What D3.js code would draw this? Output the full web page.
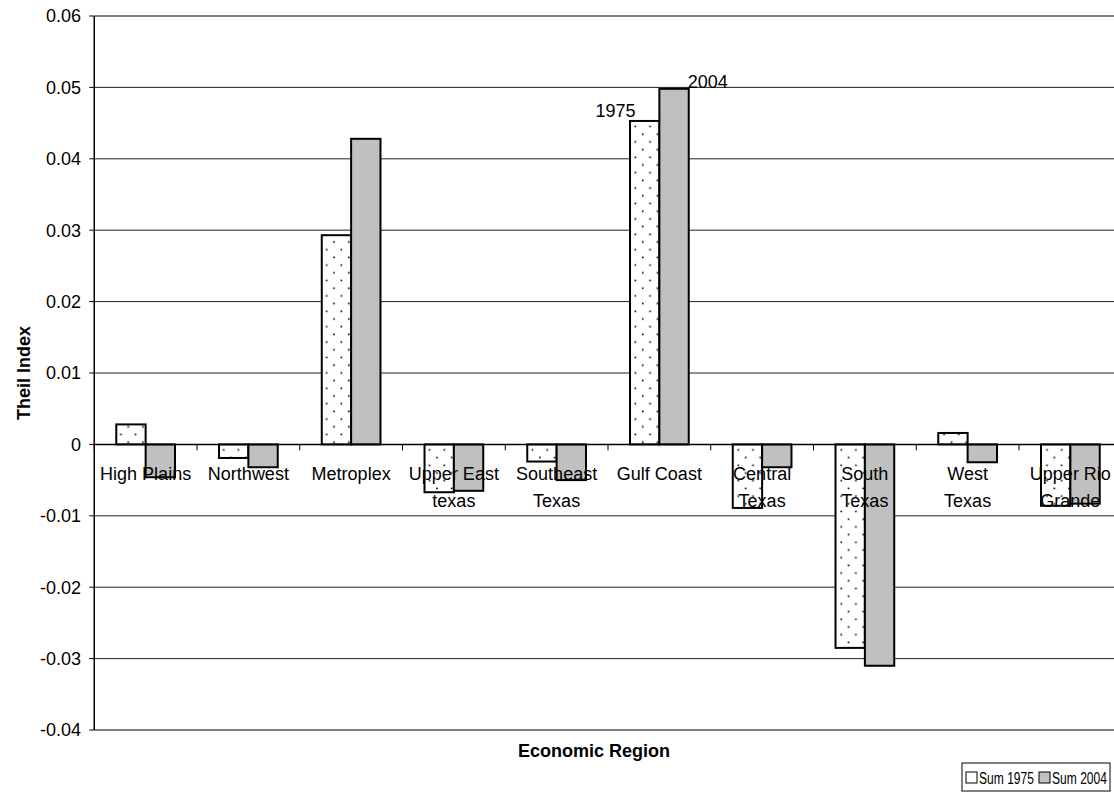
<!DOCTYPE html>
<html>
<head>
<meta charset="utf-8">
<script src="https://cdn.jsdelivr.net/npm/d3@7/dist/d3.min.js"></script>
<style>
  html, body { margin: 0; padding: 0; background: #fff; overflow: hidden; }
  text { font-family: Arial, "Liberation Sans", sans-serif; fill: #000; }
</style>
</head>
<body>
<svg id="chart" width="1114" height="793"></svg>
<script>
// region names, one entry per label line
var regions = [
  ["High Plains"], ["Northwest"], ["Metroplex"], ["Upper East", "texas"],
  ["Southeast", "Texas"], ["Gulf Coast"], ["Central", "Texas"],
  ["South", "Texas"], ["West", "Texas"], ["Upper Rio", "Grande"]
];
var series = ["Sum 1975", "Sum 2004"];
var sum1975 = [0.0028, -0.0019, 0.0293, -0.0067, -0.0024, 0.0453, -0.0089, -0.0285, 0.0016, -0.0086];
var sum2004 = [-0.0046, -0.0032, 0.0428, -0.0065, -0.0050, 0.0498, -0.0032, -0.0310, -0.0025, -0.0083];
var yTicks = [0.06, 0.05, 0.04, 0.03, 0.02, 0.01, 0, -0.01, -0.02, -0.03, -0.04];
// data labels that sit on the Gulf Coast bars
var callouts = [
  { region: 5, series: 0, text: "1975" },
  { region: 5, series: 1, text: "2004" }
];

var svg = d3.select("#chart");
var plotLeft = 94.25, plotRight = 1121.75, plotTop = 16, plotBottom = 730;

var names = regions.map(function(r){ return r.join(" "); });
var x = d3.scaleBand().domain(names).range([plotLeft, plotRight]);
var inner = d3.scaleBand().domain(series)
  .range([x.bandwidth() * 0.75 / 3.5, x.bandwidth() * 2.75 / 3.5]);
var y = d3.scaleLinear().domain([-0.04, 0.06]).range([plotBottom, plotTop]);

// dotted fill for the 1975 bars
var defs = svg.append("defs");
var pat = defs.append("pattern")
  .attr("id", "dots")
  .attr("patternUnits", "userSpaceOnUse")
  .attr("width", 14.7).attr("height", 15.4);
pat.append("rect").attr("width", 14.7).attr("height", 15.4).attr("fill", "#fff");
pat.append("rect").attr("x", 2.5).attr("y", 2.5).attr("width", 1.6).attr("height", 1.6).attr("fill", "#000");
pat.append("rect").attr("x", 9.8).attr("y", 10.2).attr("width", 1.6).attr("height", 1.6).attr("fill", "#000");

// gridlines
svg.append("g").selectAll("line")
  .data(yTicks.filter(function(t){ return t !== 0.06 && t !== -0.04 && t !== 0; }))
  .enter().append("line")
  .attr("x1", plotLeft).attr("x2", plotRight)
  .attr("y1", function(d){ return y(d); })
  .attr("y2", function(d){ return y(d); })
  .attr("stroke", "#222").attr("stroke-width", 1);

// plot area border (top and bottom)
[0.06, -0.04].forEach(function(t){
  svg.append("line")
    .attr("x1", plotLeft).attr("x2", plotRight)
    .attr("y1", y(t)).attr("y2", y(t))
    .attr("stroke", "#808080").attr("stroke-width", 2);
});

// bars
var cols = [sum1975, sum2004];
var fills = ["url(#dots)", "#c0c0c0"];
cols.forEach(function(vals, s){
  svg.append("g").selectAll("rect")
    .data(vals)
    .enter().append("rect")
    .attr("x", function(d, i){ return x(names[i]) + inner(series[s]); })
    .attr("width", inner.bandwidth())
    .attr("y", function(d){ return y(Math.max(0, d)); })
    .attr("height", function(d){ return Math.abs(y(d) - y(0)); })
    .attr("fill", fills[s])
    .attr("stroke", "#000")
    .attr("stroke-width", 2);
});

// y axis
var yAxis = svg.append("g");
yAxis.append("line")
  .attr("x1", plotLeft).attr("x2", plotLeft)
  .attr("y1", plotTop).attr("y2", plotBottom)
  .attr("stroke", "#000").attr("stroke-width", 1.5);
yAxis.selectAll(".tick")
  .data(yTicks)
  .enter().append("line")
  .attr("x1", plotLeft - 5).attr("x2", plotLeft)
  .attr("y1", function(d){ return y(d); })
  .attr("y2", function(d){ return y(d); })
  .attr("stroke", "#000");
yAxis.selectAll("text")
  .data(yTicks)
  .enter().append("text")
  .attr("x", 81)
  .attr("y", function(d){ return y(d); })
  .attr("dy", "0.35em")
  .attr("text-anchor", "end")
  .style("font-size", "18px")
  .text(function(d){ return d === 0 ? "0" : d3.format(".2f")(d).replace("\u2212", "-"); });

// x axis at zero
svg.append("line")
  .attr("x1", plotLeft).attr("x2", plotRight)
  .attr("y1", y(0)).attr("y2", y(0))
  .attr("stroke", "#000").attr("stroke-width", 1.5);
svg.append("g").selectAll("line")
  .data(names)
  .enter().append("line")
  .attr("x1", function(d){ return x(d); })
  .attr("x2", function(d){ return x(d); })
  .attr("y1", y(0)).attr("y2", y(0) + 6)
  .attr("stroke", "#000");

// category labels
var labels = svg.append("g").selectAll("text")
  .data(regions)
  .enter().append("text")
  .attr("text-anchor", "middle")
  .style("font-size", "18px");
labels.selectAll("tspan")
  .data(function(d, i){
    return d.map(function(line){ return { line: line, cx: x(names[i]) + x.bandwidth() / 2 }; });
  })
  .enter().append("tspan")
  .attr("x", function(d){ return d.cx; })
  .attr("y", function(d, j){ return y(0) + 36 + j * 27; })
  .text(function(d){ return d.line; });

// data labels
callouts.forEach(function(c){
  var bx = x(names[c.region]) + inner(series[c.series]);
  var by = y(cols[c.series][c.region]);
  svg.append("text")
    .attr("x", c.series === 0 ? bx + 5.5 : bx + inner.bandwidth() - 1)
    .attr("y", c.series === 0 ? by - 4 : by - 1)
    .attr("text-anchor", c.series === 0 ? "end" : "start")
    .style("font-size", "18px")
    .text(c.text);
});

// axis titles
svg.append("text")
  .attr("transform", "translate(30," + ((plotTop + plotBottom) / 2) + ") rotate(-90)")
  .attr("text-anchor", "middle")
  .style("font-size", "18px").style("font-weight", "bold")
  .text("Theil Index");
svg.append("text")
  .attr("x", 594).attr("y", 757)
  .attr("text-anchor", "middle")
  .style("font-size", "18px").style("font-weight", "bold")
  .text("Economic Region");

// legend
var lg = svg.append("g").attr("transform", "translate(962,763)");
lg.append("rect").attr("width", 148).attr("height", 28)
  .attr("fill", "#fff").attr("stroke", "#000").attr("stroke-width", 1);
series.forEach(function(s, i){
  var g = lg.append("g").attr("transform", "translate(" + (4 + i * 73) + ",0)");
  g.append("rect").attr("x", 0).attr("y", 9).attr("width", 11).attr("height", 11)
    .attr("fill", i === 0 ? "#fff" : "#c0c0c0").attr("stroke", "#000");
  // squeezed text, the legend box is narrow
  g.append("text")
    .attr("transform", "translate(13,21) scale(0.71,1)")
    .style("font-size", "17px")
    .text(s);
});
</script>
</body>
</html>
